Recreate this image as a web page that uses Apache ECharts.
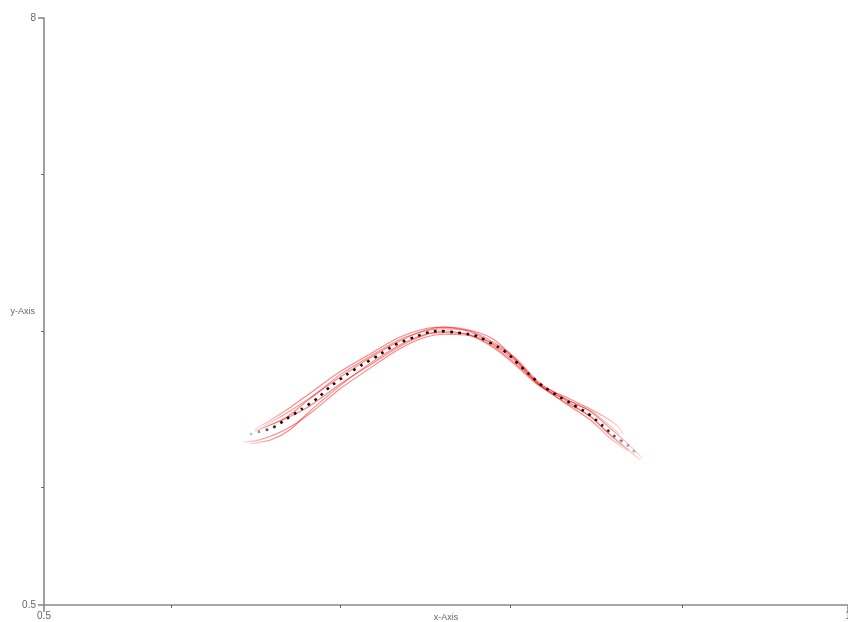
<!DOCTYPE html>
<html>
<head>
<meta charset="utf-8">
<script src="https://cdn.jsdelivr.net/npm/echarts@6/dist/echarts.min.js"></script>
<style>
html,body{margin:0;padding:0;background:#fff;}
#chart{width:848px;height:622px;}
</style>
</head>
<body>
<div id="chart"></div>
<script>
// Axis extents and tick positions
const xRange = [0.5, 1];
const yRange = [0.5, 8];
const xTickValues = [0.579, 0.684, 0.790, 0.897];
const yTickValues = [2, 4, 6];
const xLabelValues = [0.5, 1];
const yLabelValues = [0.5, 8];

// Individual runs (red)
const run1 = [[0.631,2.74],[0.650,2.98],[0.665,3.20],[0.684,3.48],[0.703,3.71],[0.721,3.92],[0.737,4.03],[0.749,4.05],[0.765,3.99],[0.780,3.82],[0.793,3.62],[0.808,3.32],[0.824,3.16],[0.840,3.00],[0.852,2.86],[0.858,2.76],[0.860,2.68]];
const run2 = [[0.624,2.58],[0.634,2.61],[0.650,2.74],[0.665,2.94],[0.684,3.26],[0.703,3.53],[0.721,3.77],[0.737,3.92],[0.749,3.96],[0.765,3.94],[0.780,3.80],[0.793,3.59],[0.808,3.31],[0.824,3.12],[0.840,2.90],[0.852,2.67],[0.861,2.52],[0.871,2.35]];
const run3 = [[0.628,2.56],[0.641,2.61],[0.653,2.74],[0.665,2.97],[0.684,3.30],[0.703,3.59],[0.721,3.82],[0.737,3.96],[0.749,3.98],[0.765,3.95],[0.780,3.83],[0.793,3.64],[0.808,3.32],[0.824,3.08],[0.840,2.86],[0.852,2.63],[0.863,2.47]];
const run4 = [[0.631,2.72],[0.650,2.89],[0.665,3.13],[0.684,3.44],[0.703,3.68],[0.721,3.89],[0.737,4.00],[0.749,4.03],[0.765,4.00],[0.780,3.85],[0.793,3.66],[0.808,3.34],[0.824,3.14],[0.840,2.97],[0.852,2.76],[0.861,2.60],[0.872,2.38]];
const run5 = [[0.637,2.79],[0.650,2.94],[0.665,3.14],[0.684,3.41],[0.703,3.66],[0.721,3.87],[0.737,4.01],[0.749,4.05],[0.765,4.01],[0.780,3.89],[0.793,3.64],[0.808,3.31],[0.824,3.09],[0.840,2.91],[0.852,2.68],[0.864,2.48]];
const run6 = [[0.634,2.75],[0.650,2.88],[0.665,3.04],[0.684,3.32],[0.703,3.57],[0.721,3.80],[0.737,3.95],[0.749,4.00],[0.765,3.95],[0.780,3.78],[0.793,3.57],[0.808,3.30],[0.824,3.13],[0.840,2.98],[0.852,2.79],[0.858,2.68]];
const runs = [run1, run2, run3, run4, run5, run6];

// Average curve (black dotted)
const meanCurve = [[0.628,2.68],[0.633,2.71],[0.642,2.76],[0.651,2.88],[0.660,3.00],[0.670,3.14],[0.678,3.29],[0.688,3.44],[0.698,3.57],[0.708,3.69],[0.718,3.82],[0.730,3.92],[0.740,3.99],[0.746,4.00],[0.757,3.98],[0.767,3.95],[0.772,3.91],[0.782,3.80],[0.788,3.72],[0.793,3.62],[0.801,3.46],[0.810,3.30],[0.819,3.18],[0.829,3.06],[0.838,2.95],[0.847,2.80],[0.854,2.67],[0.863,2.54],[0.869,2.42]];

function fade(rgb, a) {
  return {
    type: 'linear', x: 0, y: 0, x2: 1, y2: 0,
    colorStops: [
      { offset: 0, color: 'rgba(' + rgb + ',0.15)' },
      { offset: 0.08, color: 'rgba(' + rgb + ',' + a + ')' },
      { offset: 0.9, color: 'rgba(' + rgb + ',' + a + ')' },
      { offset: 1, color: 'rgba(' + rgb + ',0.15)' }
    ]
  };
}

const axisColor = '#8a8a8a';
const labelStyle = { color: '#666', fontSize: 9, fontFamily: 'Liberation Sans, Arial, sans-serif' };

const series = runs.map(function (r) {
  return {
    type: 'line', data: r, smooth: 0.25, symbol: 'none', silent: true,
    lineStyle: { width: 1.1, color: fade('255,30,30', 0.55) }
  };
});
series.push({
  type: 'line', data: meanCurve, smooth: 0.2, symbol: 'none', silent: true, z: 5,
  lineStyle: { width: 2.6, type: [2.6, 5.6], cap: 'butt', color: fade('0,0,0', 0.95) }
});

const chart = echarts.init(document.getElementById('chart'), null, { renderer: 'canvas' });
chart.setOption({
  animation: false,
  backgroundColor: '#fff',
  grid: { left: 44, right: 0, top: 18, bottom: 17, containLabel: false, outerBoundsMode: 'none' },
  xAxis: [{
    type: 'value', min: xRange[0], max: xRange[1],
    name: 'x-Axis', nameLocation: 'middle', nameGap: 8, nameMoveOverlap: false,
    nameTextStyle: labelStyle,
    axisLine: { show: true, lineStyle: { color: axisColor, width: 1.6 } },
    axisTick: { show: true, length: 3, customValues: xTickValues, lineStyle: { color: '#666', width: 1 } },
    axisLabel: { show: true, customValues: xLabelValues, margin: 6, ...labelStyle, fontSize: 10, formatter: v => String(v) },
    splitLine: { show: false }
  }, {
    type: 'value', min: xRange[0], max: xRange[1], position: 'bottom',
    axisLine: { show: false },
    axisTick: { show: true, length: 7, customValues: xLabelValues, lineStyle: { color: axisColor, width: 1.6 } },
    axisLabel: { show: false }, splitLine: { show: false }
  }],
  yAxis: [{
    type: 'value', min: yRange[0], max: yRange[1],
    name: 'y-Axis', nameLocation: 'middle', nameGap: 9, nameRotate: 0, nameMoveOverlap: false,
    nameTextStyle: labelStyle,
    axisLine: { show: true, lineStyle: { color: axisColor, width: 1.6 } },
    axisTick: { show: true, length: 3, customValues: yTickValues, lineStyle: { color: '#666', width: 1 } },
    axisLabel: { show: true, customValues: yLabelValues, margin: 8, ...labelStyle, fontSize: 10, formatter: v => String(v) },
    splitLine: { show: false }
  }, {
    type: 'value', min: yRange[0], max: yRange[1], position: 'left',
    axisLine: { show: false },
    axisTick: { show: true, length: 6, customValues: yLabelValues, lineStyle: { color: axisColor, width: 1.6 } },
    axisLabel: { show: false }, splitLine: { show: false }
  }],
  series: series
});
</script>
</body>
</html>
